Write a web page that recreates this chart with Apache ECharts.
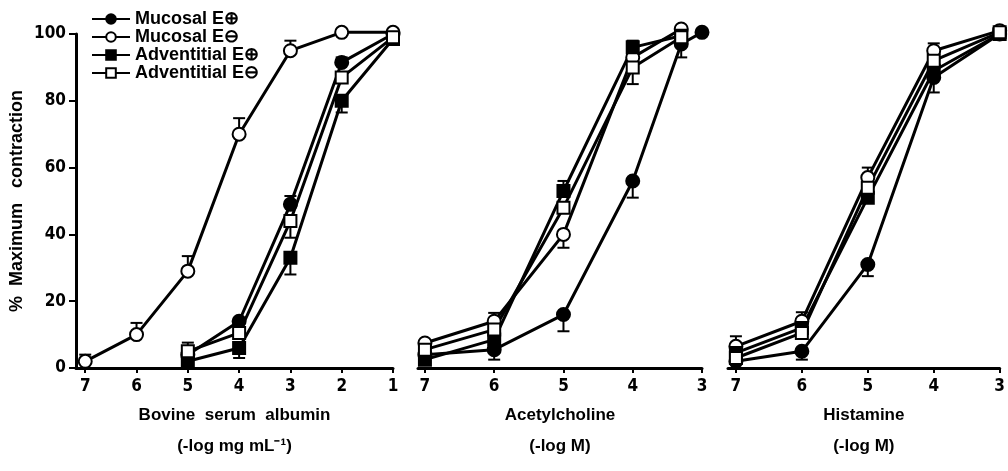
<!DOCTYPE html>
<html>
<head>
<meta charset="utf-8">
<script src="https://cdn.jsdelivr.net/npm/echarts@6/dist/echarts.min.js"></script>
<style>
  html, body { margin: 0; padding: 0; background: #fff; }
  #main { width: 1008px; height: 471px; }
</style>
</head>
<body>
<div id="main"></div>
<script>
var seriesNames = ['Mucosal E⊕', 'Mucosal E⊖', 'Adventitial E⊕', 'Adventitial E⊖'];

// bovine serum albumin, -log mg/mL
var bsaDose   = [7, 6, 5, 4, 3, 2, 1];
var bsaMucPos = [null, null, 4, 14, 49, 91.5, 100];
var bsaMucNeg = [2, 10, 29, 70, 95, 100.5, 100.5];
var bsaAdvPos = [null, null, 2, 6, 33, 80, 98.5];
var bsaAdvNeg = [null, null, 5, 10.5, 44, 87, 99];
// error bars: + goes up, - goes down
var bsaMucPosErr = [0, 0, 0, 0, 2.5, 1.5, 0];
var bsaMucNegErr = [2, 3.5, 4.5, 4.8, 3, 0, 0];
var bsaAdvPosErr = [0, 0, 0, -3, -5, -3.5, 0];
var bsaAdvNegErr = [0, 0, 2.6, 0, -5, 0, 0];

// acetylcholine, -log M
var achDose   = [7, 6, 5, 4, 3.3, 3];
var achMucPos = [4, 5.5, 16, 56, 97, 100.5];
var achMucNeg = [7.5, 14, 40, 93, 101.5, null];
var achAdvPos = [2.5, 8.5, 53, 96, 99.5, null];
var achAdvNeg = [5.5, 11.5, 48, 90, 99, null];
var achMucPosErr = [0, -3, -5, -5, -4, 0];
var achMucNegErr = [0, 2.5, -4, 0, 0, 0];
var achAdvPosErr = [0, 0, 3, 2, 0, 0];
var achAdvNegErr = [0, 0, 0, -5, 0, 0];

// histamine, -log M
var hisDose   = [7, 6, 5, 4, 3];
var hisMucPos = [2, 5, 31, 87, 100];
var hisMucNeg = [6.5, 14, 57, 95, 101];
var hisAdvPos = [4.5, 12, 51, 89, 100];
var hisAdvNeg = [3, 10.5, 54, 92, 100.5];
var hisMucPosErr = [0, -2.5, -3.5, -4.5, 0];
var hisMucNegErr = [3, 2.7, 3, 2.2, 0];
var hisAdvPosErr = [0, 0, 0, 0, 0];
var hisAdvNegErr = [0, 0, 0, 0, 0];

var filled = [true, false, true, false];
var shapes = ['circle', 'circle', 'rect', 'rect'];

var tickFont = 'Liberation Sans Narrow, DejaVu Sans Condensed, sans-serif';
var textFont = 'Liberation Sans, Arial, sans-serif';

function pairs(xs, ys) {
    var out = [];
    for (var i = 0; i < xs.length; i++) {
        if (ys[i] != null) out.push([xs[i], ys[i]]);
    }
    return out;
}
function errs(xs, ys, es) {
    var out = [];
    for (var i = 0; i < xs.length; i++) {
        if (ys[i] != null && es[i]) out.push([xs[i], ys[i], es[i]]);
    }
    return out;
}

var panels = [
    {dose: bsaDose, ys: [bsaMucPos, bsaMucNeg, bsaAdvPos, bsaAdvNeg],
     es: [bsaMucPosErr, bsaMucNegErr, bsaAdvPosErr, bsaAdvNegErr]},
    {dose: achDose, ys: [achMucPos, achMucNeg, achAdvPos, achAdvNeg],
     es: [achMucPosErr, achMucNegErr, achAdvPosErr, achAdvNegErr]},
    {dose: hisDose, ys: [hisMucPos, hisMucNeg, hisAdvPos, hisAdvNeg],
     es: [hisMucPosErr, hisMucNegErr, hisAdvPosErr, hisAdvNegErr]}
];

function errorBar(params, api) {
    var x = api.value(0), y = api.value(1), e = api.value(2);
    var p = api.coord([x, y]);
    var q = api.coord([x, y + e]);
    return {
        type: 'group',
        children: [
            {type: 'line', shape: {x1: p[0], y1: p[1], x2: q[0], y2: q[1]},
             style: {stroke: '#000', lineWidth: 2}},
            {type: 'line', shape: {x1: q[0] - 6, y1: q[1], x2: q[0] + 6, y2: q[1]},
             style: {stroke: '#000', lineWidth: 2}}
        ]
    };
}

var series = [];
panels.forEach(function (pn, g) {
    for (var k = 0; k < 4; k++) {
        series.push({
            type: 'custom',
            xAxisIndex: g, yAxisIndex: g,
            data: errs(pn.dose, pn.ys[k], pn.es[k]),
            renderItem: errorBar,
            clip: false,
            silent: true,
            z: 2
        });
        series.push({
            type: 'line',
            name: seriesNames[k],
            xAxisIndex: g, yAxisIndex: g,
            data: pairs(pn.dose, pn.ys[k]),
            symbol: shapes[k],
            symbolSize: shapes[k] == 'rect' ? 12 : 13,
            showAllSymbol: true,
            clip: false,
            lineStyle: {color: '#000', width: 3},
            itemStyle: {color: filled[k] ? '#000' : '#fff', borderColor: '#000', borderWidth: 2},
            emphasis: {disabled: true},
            z: 3
        });
    }
});

var xNames = ['Bovine  serum  albumin\n(-log mg mL⁻¹)', 'Acetylcholine\n(-log M)', 'Histamine\n(-log M)'];
var xMax = [7.18, 7.1, 7.12];
var xMin = [1, 3, 3];
var xTicks = [[7, 6, 5, 4, 3, 2, 1], [7, 6, 5, 4, 3], [7, 6, 5, 4, 3]];
var grids = [
    {left: 76, top: 34, width: 317, height: 334},
    {left: 418, top: 34, width: 284, height: 334},
    {left: 728, top: 34, width: 281, height: 334}
];

var xAxes = [], yAxes = [];
for (var g = 0; g < 3; g++) {
    xAxes.push({
        type: 'value', gridIndex: g, inverse: true,
        min: xMin[g], max: xMax[g],
        name: xNames[g], nameLocation: 'middle', nameGap: 32,
        nameTextStyle: {fontFamily: textFont, fontWeight: 'bold', fontSize: 17, color: '#000', lineHeight: 31},
        splitLine: {show: false},
        axisLine: {lineStyle: {color: '#000', width: 3}},
        axisTick: {customValues: xTicks[g], length: 5, lineStyle: {color: '#000', width: 2}},
        axisLabel: {customValues: xTicks[g], margin: 10, fontFamily: tickFont, fontWeight: 'bold', fontSize: 17, color: '#000'}
    });
    yAxes.push({
        type: 'value', gridIndex: g, min: 0, max: 100, interval: 20,
        show: g == 0,
        name: g == 0 ? '%  Maximum   contraction' : '',
        nameLocation: 'middle', nameGap: 50,
        nameTextStyle: {fontFamily: textFont, fontWeight: 'bold', fontSize: 18, color: '#000'},
        splitLine: {show: false},
        axisLine: {show: true, lineStyle: {color: '#000', width: 3}},
        axisTick: {show: true, length: 7, lineStyle: {color: '#000', width: 2}},
        axisLabel: {margin: 10, fontFamily: tickFont, fontWeight: 'bold', fontSize: 17, color: '#000'}
    });
}

var option = {
    backgroundColor: '#fff',
    animation: false,
    legend: {
        data: seriesNames,
        orient: 'vertical',
        left: 86, top: 5,
        itemWidth: 38, itemHeight: 12, itemGap: 0,
        selectedMode: false,
        textStyle: {fontFamily: textFont, fontWeight: 'bold', fontSize: 18, color: '#000'}
    },
    grid: grids,
    xAxis: xAxes,
    yAxis: yAxes,
    series: series
};

var myChart = echarts.init(document.getElementById('main'));
myChart.setOption(option);
</script>
</body>
</html>
